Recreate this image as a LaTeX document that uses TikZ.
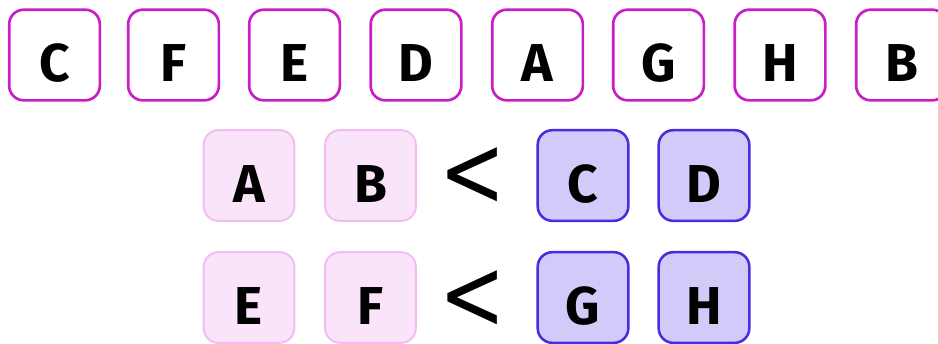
\documentclass[tikz,border=0pt]{standalone}
\usepackage{fontspec}
\setmainfont{Fira Sans}
\newfontfamily\symfont{DejaVu Sans}
\definecolor{topline}{HTML}{C81EC8}
\definecolor{pinkfill}{HTML}{FAE4FA}
\definecolor{pinkline}{HTML}{F2BDF2}
\definecolor{bluefill}{HTML}{D2CAF8}
\definecolor{blueline}{HTML}{4A2CE0}
\tikzset{
  letterbox/.style={rounded corners=11pt, minimum width=68pt, minimum height=68pt,
    inner sep=0pt, text height=40pt, text depth=0pt,
    font=\fontsize{40}{40}\selectfont\bfseries},
  topbox/.style={letterbox, draw=topline, line width=2pt, fill=white},
  pinkbox/.style={letterbox, draw=pinkline, line width=1.5pt, fill=pinkfill},
  bluebox/.style={letterbox, draw=blueline, line width=1.9pt, fill=bluefill},
  lessthan/.style={inner sep=0pt, font=\symfont\fontsize{76}{76}\selectfont}
}
\begin{document}
\begin{tikzpicture}[x=0.75pt,y=-0.75pt]
\useasboundingbox (0,0) rectangle (938,343);
% top row
\node[topbox] (t1) at (54.5,55) {C};
\node[topbox] (t2) at (173.5,55) {F};
\node[topbox] (t3) at (294.5,55) {E};
\node[topbox] (t4) at (416,55) {D};
\node[topbox] (t5) at (537.5,55) {A};
\node[topbox] (t6) at (658.5,55) {G};
\node[topbox] (t7) at (780,55) {H};
\node[topbox] (t8) at (901.5,55) {B};
% middle row
\node[pinkbox] (a) at (249,175.5) {A};
\node[pinkbox] (b) at (370.5,175.5) {B};
\node[lessthan] (lt1) at (472.5,177) {\scalebox{0.78}[1]{<}};
\node[bluebox] (c) at (583,175.5) {C};
\node[bluebox] (d) at (704,175.5) {D};
% bottom row
\node[pinkbox] (e) at (249,297.5) {E};
\node[pinkbox] (f) at (370.5,297.5) {F};
\node[lessthan] (lt2) at (472.5,300) {\scalebox{0.78}[1]{<}};
\node[bluebox] (g) at (583,297.5) {G};
\node[bluebox] (h) at (704,297.5) {H};
\end{tikzpicture}
\end{document}
